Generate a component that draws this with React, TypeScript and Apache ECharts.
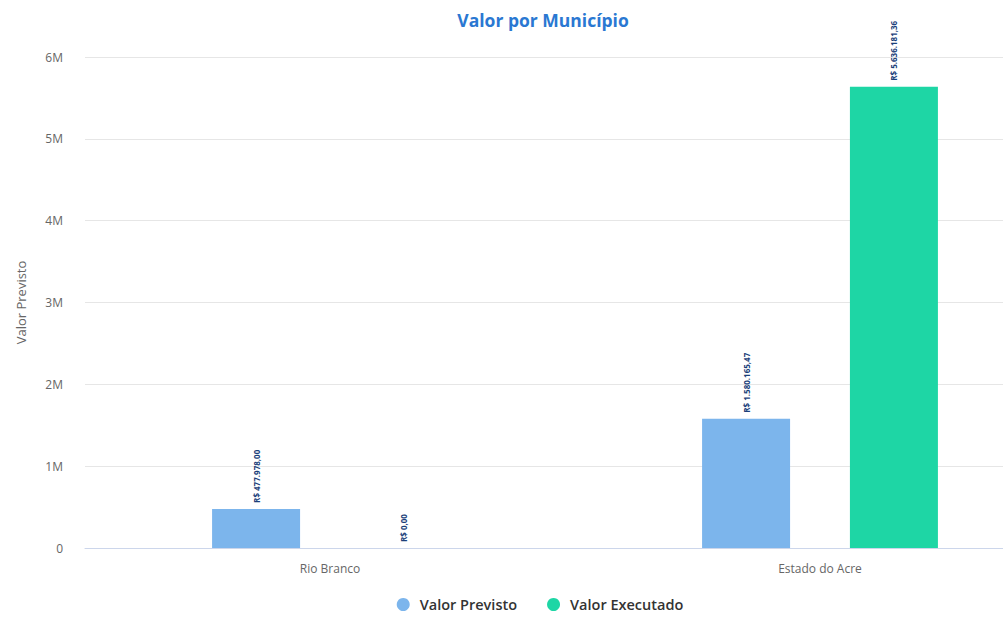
import React, { useEffect, useRef } from "react";
import * as echarts from "echarts";

const categories = ["Rio Branco", "Estado do Acre"];
const valorPrevisto = [477978.0, 1580165.47];
const valorExecutado = [0, 5636181.36];
const yTicks = [0, 1000000, 2000000, 3000000, 4000000, 5000000, 6000000];

function brl(v: number): string {
  const fixed = v.toFixed(2);
  const [intPart, dec] = fixed.split(".");
  const withDots = intPart.replace(/\B(?=(\d{3})+(?!\d))/g, ".");
  return "R$ " + withDots + "," + dec;
}

function tickLabel(v: number): string {
  if (v === 0) return "0";
  return v / 1000000 + "M";
}

export default function App() {
  const ref = useRef<HTMLDivElement>(null);
  useEffect(() => {
    if (!ref.current) return;
    const chart = echarts.init(ref.current, null, { renderer: "svg" });
    const font = "'Open Sans', 'DejaVu Sans', sans-serif";
    const labelCfg = {
      show: true,
      position: "top",
      rotate: 90,
      align: "left",
      verticalAlign: "middle",
      distance: 6,
      fontSize: 8,
      fontWeight: "bold",
      color: "#1b3f7a",
      fontFamily: font,
      formatter: (p: any) => brl(p.value),
    };
    chart.setOption({
      animation: false,
      textStyle: { fontFamily: font },
      title: {
        text: "Valor por Município",
        left: 538,
        textAlign: "center",
        top: 6,
        textStyle: { color: "#2a78d2", fontSize: 17.5, fontWeight: "bold", fontFamily: font },
      },
      legend: {
        bottom: 1,
        left: "center",
        itemWidth: 13,
        itemHeight: 13,
        itemGap: 30,
        icon: "circle",
        textStyle: { color: "#333", fontSize: 14.5, fontWeight: 600, fontFamily: font, padding: [0, 0, 0, 5] },
        data: ["Valor Previsto", "Valor Executado"],
      },
      grid: { left: 85, right: 15, top: 57, bottom: 70 },
      xAxis: {
        type: "category",
        data: categories,
        axisLine: { lineStyle: { color: "#ccd6eb" } },
        axisTick: { show: false },
        axisLabel: { color: "#666", fontSize: 12, margin: 14, fontFamily: font },
      },
      yAxis: {
        type: "value",
        min: yTicks[0],
        max: yTicks[yTicks.length - 1],
        interval: 1000000,
        name: "Valor Previsto",
        nameLocation: "middle",
        nameGap: 58,
        nameTextStyle: { color: "#666", fontSize: 13, fontFamily: font },
        axisLine: { show: false },
        axisTick: { show: false },
        splitLine: { lineStyle: { color: "#e6e6e6" } },
        axisLabel: { color: "#666", fontSize: 12, margin: 22, formatter: tickLabel, fontFamily: font },
      },
      series: [
        {
          name: "Valor Previsto",
          type: "bar",
          data: valorPrevisto,
          barWidth: 88,
          barGap: "68%",
          itemStyle: { color: "#7cb5ec" },
          label: labelCfg,
        },
        {
          name: "Valor Executado",
          type: "bar",
          data: valorExecutado,
          barWidth: 88,
          itemStyle: { color: "#1ed6a5" },
          label: labelCfg,
        },
      ],
    });
    return () => chart.dispose();
  }, []);
  return (
    <div style={{ position: "fixed", left: 0, top: 0, width: 1003, height: 618, overflow: "hidden", background: "#fff" }}>
      <div ref={ref} style={{ width: 1080, height: 618 }} />
    </div>
  );
}
